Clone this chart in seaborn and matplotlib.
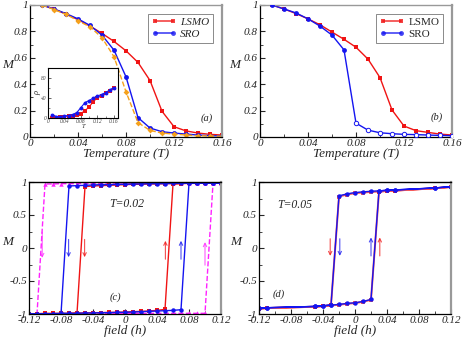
import numpy as np
import pandas as pd
import matplotlib
matplotlib.use("Agg")
import matplotlib.pyplot as plt
from matplotlib.ticker import MultipleLocator, FixedLocator, FuncFormatter
from matplotlib.lines import Line2D
import seaborn as sns

sns.set_theme(style="ticks")
plt.rcParams['font.family'] = ['Liberation Serif', 'DejaVu Serif']
plt.rcParams['axes.unicode_minus'] = False

# ---------------- data ----------------
T = [0.01, 0.02, 0.03, 0.04, 0.05, 0.06, 0.07, 0.08, 0.09, 0.10, 0.11, 0.12, 0.13, 0.14, 0.15, 0.16]
# panel (a)
a_lsmo = [1.0, 0.97, 0.93, 0.89, 0.84, 0.785, 0.724, 0.653, 0.565, 0.428, 0.195, 0.078, 0.046, 0.03, 0.02, 0.015]
a_sro = [1.0, 0.97, 0.935, 0.895, 0.845, 0.772, 0.658, 0.456, 0.147, 0.068, 0.04, 0.03, 0.022, 0.015, 0.01, 0.008]
a_third = [1.0, 0.965, 0.93, 0.88, 0.835, 0.752, 0.608, 0.342, 0.109, 0.05, 0.03, 0.022, 0.015, 0.01, 0.008, 0.005]
# inset (resistivity)
rho_lsmo = [1, 1, 2, 3, 4, 5, 7, 9, 15, 22, 33, 40, 45, 50, 55, 60]
rho_sro = [7, 3, 3, 4, 5, 7, 11, 21, 31, 35, 40, 44, 47, 51, 56, 61]
# panel (b)
b_lsmo = [1.0, 0.97, 0.935, 0.895, 0.85, 0.795, 0.74, 0.68, 0.59, 0.45, 0.205, 0.083, 0.048, 0.035, 0.022, 0.015]
b_sro = [1.0, 0.97, 0.94, 0.895, 0.84, 0.772, 0.66, 0.105, 0.052, 0.032, 0.025, 0.02, 0.018, 0.015, 0.012, 0.01]
b_sro_filled = [True, True, True, True, True, True, True, False, False, False, False, False, False, False, False, False]

# panel (c): T=0.02 hysteresis, field grid
h = [-0.12, -0.11, -0.10, -0.09, -0.08, -0.07, -0.06, -0.05, -0.04, -0.03, -0.02, -0.01, 0.0,
     0.01, 0.02, 0.03, 0.04, 0.05, 0.06, 0.07, 0.08, 0.09, 0.10, 0.11, 0.12]
c_lsmo_down = [-1.0, -1.0, -1.0, -1.0, -1.0, -0.995, -0.99, 0.93, 0.94, 0.945, 0.95, 0.955, 0.96,
               0.965, 0.965, 0.97, 0.97, 0.975, 0.975, 0.98, 0.98, 0.98, 0.985, 0.985, 0.985]
c_lsmo_up = [-0.995, -0.995, -0.99, -0.99, -0.99, -0.99, -0.985, -0.985, -0.98, -0.98, -0.975, -0.975, -0.97,
             -0.965, -0.96, -0.955, -0.945, -0.93, 0.97, 0.975, 0.98, 0.98, 0.985, 0.985, 0.985]
c_sro_down = [-1.0, -1.0, -1.0, -1.0, -1.0, 0.94, 0.945, 0.95, 0.955, 0.96, 0.96, 0.965, 0.965,
              0.97, 0.97, 0.975, 0.975, 0.975, 0.98, 0.98, 0.98, 0.985, 0.985, 0.985, 0.985]
c_sro_up = [-1.0, -1.0, -0.995, -0.995, -0.99, -0.99, -0.99, -0.985, -0.985, -0.98, -0.98, -0.975, -0.975,
            -0.97, -0.965, -0.96, -0.955, -0.95, -0.945, -0.935, 0.98, 0.98, 0.985, 0.985, 0.985]
c_third_down = [-1.0, -1.0, 0.97, 0.97, 0.975, 0.975, 0.975, 0.98, 0.98, 0.98, 0.98, 0.985, 0.985,
                0.985, 0.985, 0.985, 0.985, 0.99, 0.99, 0.99, 0.99, 0.99, 0.99, 0.99, 0.99]
c_third_up = [-1.0, -1.0, -1.0, -1.0, -0.995, -0.995, -0.995, -0.99, -0.99, -0.99, -0.99, -0.99, -0.99,
              -0.99, -0.99, -0.99, -0.99, -0.99, -0.99, -0.99, -0.99, -0.99, -0.99, 0.98, 0.985]

# panel (d): T=0.05 hysteresis
hd = [-0.12, -0.11, -0.05, -0.04, -0.03, -0.02, -0.01, 0.0, 0.01, 0.02, 0.03, 0.04, 0.05, 0.10, 0.12]
d_sro_down = [-0.915, -0.905, -0.885, -0.875, -0.865, 0.79, 0.82, 0.84, 0.85, 0.86, 0.865, 0.875, 0.88, 0.91, 0.93]
d_sro_up = [-0.915, -0.905, -0.885, -0.875, -0.865, -0.855, -0.84, -0.83, -0.81, -0.78, 0.865, 0.875, 0.88, 0.91, 0.93]
d_lsmo_down = [-0.92, -0.91, -0.89, -0.88, -0.87, 0.78, 0.81, 0.83, 0.84, 0.85, 0.855, 0.865, 0.87, 0.905, 0.925]
d_lsmo_up = [-0.92, -0.91, -0.89, -0.88, -0.87, -0.86, -0.845, -0.835, -0.815, -0.785, 0.855, 0.865, 0.87, 0.905, 0.925]

# tick values
T_ticks = [0, 0.04, 0.08, 0.12, 0.16]
M_ticks = [0, 0.2, 0.4, 0.6, 0.8, 1]
h_ticks = [-0.12, -0.08, -0.04, 0, 0.04, 0.08, 0.12]
Mh_ticks = [-1, -0.5, 0, 0.5, 1]
rho_ticks = [0, 40, 80]

RED = '#f01414'
BLUE = '#1414f0'
ORANGE = '#f5a11c'
MAG = '#ff22ff'

fig = plt.figure(figsize=(4.63, 3.43), dpi=100)
W, H = 463.0, 343.0

def add_ax(l, t, r, b):
    return fig.add_axes([l / W, 1 - b / H, (r - l) / W, (b - t) / H])

ax_a = add_ax(30, 5, 222, 137)
ax_b = add_ax(260, 5, 452, 137)
ax_c = add_ax(29, 182, 221, 314)
ax_d = add_ax(259, 182, 451, 314)

lab_font = dict(family='Liberation Serif', style='italic', size=9.5)
gfmt = FuncFormatter(lambda v, p: '%g' % round(v, 6) if abs(v) > 1e-9 else '0')

def style(ax, xt, xmin, yt, ymin, top_gray=False):
    ax.xaxis.set_major_locator(FixedLocator(xt))
    ax.yaxis.set_major_locator(FixedLocator(yt))
    ax.xaxis.set_major_formatter(gfmt)
    ax.yaxis.set_major_formatter(gfmt)
    ax.xaxis.set_minor_locator(MultipleLocator(xmin))
    ax.yaxis.set_minor_locator(MultipleLocator(ymin))
    ax.tick_params(which='both', direction='in', top=False, right=False, pad=1.5, labelsize=8)
    ax.tick_params(which='major', length=3.5, width=0.8)
    ax.tick_params(which='minor', length=2, width=0.6)
    for lab in ax.get_xticklabels() + ax.get_yticklabels():
        lab.set_fontstyle('italic')
    for s in ['left', 'bottom']:
        ax.spines[s].set_color('black')
        ax.spines[s].set_linewidth(0.9)
    ax.spines['right'].set_color('#999999')
    ax.spines['right'].set_linewidth(1.6)
    ax.spines['top'].set_color('#999999' if top_gray else 'black')
    ax.spines['top'].set_linewidth(1.0)

# ---------------- panel (a) ----------------
sns.lineplot(x=T, y=a_lsmo, ax=ax_a, color=RED, marker='s', markersize=3.5, markeredgewidth=0, lw=1.0)
sns.lineplot(x=T, y=a_sro, ax=ax_a, color=BLUE, marker='o', markersize=3.5, markeredgewidth=0, lw=1.0)
sns.lineplot(x=T, y=a_third, ax=ax_a, color=ORANGE, marker='D', markersize=3, markeredgewidth=0, lw=1.0, linestyle='--')
ax_a.set_xlim(0, 0.16)
ax_a.set_ylim(0, 1)
style(ax_a, T_ticks, 0.02, M_ticks, 0.1, top_gray=True)
ax_a.set_xlabel('Temperature (T)', fontdict=lab_font, labelpad=0)
ax_a.set_ylabel('M', fontdict=lab_font, rotation=0)
ax_a.yaxis.set_label_coords(-0.115, 0.5)
ax_a.text(0.147, 0.14, '(a)', fontdict=dict(family='Liberation Serif', style='italic', size=7.5), ha='center', va='center')
hl = [Line2D([], [], color=RED, lw=1.2, marker='s', markersize=3.5, markeredgewidth=0),
      Line2D([], [], color=BLUE, lw=1.2, marker='o', markersize=3.5, markeredgewidth=0)]
leg = ax_a.legend(hl, ['LSMO', 'SRO'], loc='upper right', bbox_to_anchor=(0.955, 0.935), numpoints=2,
                  prop=dict(family='Liberation Serif', style='italic', size=8), frameon=True, fancybox=False,
                  handlelength=2.2, handletextpad=0.4, borderpad=0.35, labelspacing=0.2, borderaxespad=0)
leg.get_frame().set_edgecolor('#555555')
leg.get_frame().set_linewidth(0.6)
for line in leg.get_lines():
    line.set_alpha(0.8)

# inset
ax_i = fig.add_axes([48 / W, 1 - 118 / H, 70 / W, 50 / H])
sns.lineplot(x=T, y=rho_lsmo, ax=ax_i, color=RED, marker='s', markersize=2.5, markeredgewidth=0, lw=0.8)
sns.lineplot(x=T, y=rho_sro, ax=ax_i, color=BLUE, marker='o', markersize=2.8, markeredgewidth=0, lw=0.8)
ax_i.set_xlim(0, 0.17)
ax_i.set_ylim(0, 100)
ax_i.xaxis.set_major_locator(FixedLocator(T_ticks))
ax_i.yaxis.set_major_locator(FixedLocator(rho_ticks))
ax_i.xaxis.set_major_formatter(gfmt)
ax_i.yaxis.set_major_formatter(gfmt)
ax_i.xaxis.set_minor_locator(MultipleLocator(0.02))
ax_i.yaxis.set_minor_locator(MultipleLocator(20))
ax_i.tick_params(which='both', direction='in', labelsize=4, pad=1, length=2, width=0.5, labelcolor='#444444')
ax_i.tick_params(which='minor', length=1.2, width=0.4)
for lab in ax_i.get_xticklabels() + ax_i.get_yticklabels():
    lab.set_fontstyle('italic')
for s in ax_i.spines.values():
    s.set_linewidth(0.8)
    s.set_color('black')
ax_i.set_xlabel('T', fontdict=dict(family='Liberation Serif', style='italic', size=4.5), labelpad=0)
ax_i.set_ylabel('ρ', fontdict=dict(family='Liberation Serif', style='italic', size=6), labelpad=0)

# ---------------- panel (b) ----------------
sns.lineplot(x=T, y=b_lsmo, ax=ax_b, color=RED, marker='s', markersize=3.5, markeredgewidth=0, lw=1.0)
sns.lineplot(x=T, y=b_sro, ax=ax_b, color=BLUE, lw=1.0)
df_b = pd.DataFrame({'T': T, 'M': b_sro, 'filled': b_sro_filled})
sns.scatterplot(data=df_b[df_b['filled']], x='T', y='M', ax=ax_b, color=BLUE, marker='o', s=12, linewidth=0, zorder=3)
sns.scatterplot(data=df_b[~df_b['filled']], x='T', y='M', ax=ax_b, facecolor='white', edgecolor=BLUE, marker='o', s=10, linewidth=0.7, zorder=3)
ax_b.set_xlim(0, 0.16)
ax_b.set_ylim(0, 1)
style(ax_b, T_ticks, 0.02, M_ticks, 0.1, top_gray=True)
ax_b.set_xlabel('Temperature (T)', fontdict=lab_font, labelpad=0)
ax_b.set_ylabel('M', fontdict=lab_font, rotation=0)
ax_b.yaxis.set_label_coords(-0.13, 0.5)
ax_b.text(0.147, 0.147, '(b)', fontdict=dict(family='Liberation Serif', style='italic', size=7.5), ha='center', va='center')
hl2 = [Line2D([], [], color=RED, lw=1.2, marker='s', markersize=3.5, markeredgewidth=0),
       Line2D([], [], color=BLUE, lw=1.2, marker='o', markersize=3.5, markeredgewidth=0)]
leg2 = ax_b.legend(hl2, ['LSMO', 'SRO'], loc='upper right', bbox_to_anchor=(0.955, 0.935), numpoints=2,
                   prop=dict(family='Liberation Serif', size=8), frameon=True, fancybox=False,
                   handlelength=2.2, handletextpad=0.4, borderpad=0.35, labelspacing=0.2, borderaxespad=0)
leg2.get_frame().set_edgecolor('#555555')
leg2.get_frame().set_linewidth(0.6)
for line in leg2.get_lines():
    line.set_alpha(0.8)

# ---------------- panel (c) ----------------
def loop(ax, x, down, up, color, marker, ms, ls='-', alpha=1.0, lw=1.0):
    xx = list(reversed(x)) + list(x)
    yy = list(reversed(down)) + list(up)
    sns.lineplot(x=xx, y=yy, ax=ax, sort=False, estimator=None, color=color, marker=marker,
                 markersize=ms, markeredgewidth=0, lw=lw, linestyle=ls, alpha=alpha)

loop(ax_c, h, c_third_down, c_third_up, MAG, '^', 3.2, ls='--')
loop(ax_c, h, c_lsmo_down, c_lsmo_up, RED, 's', 3.0)
loop(ax_c, h, c_sro_down, c_sro_up, BLUE, 'o', 3.2)
ax_c.set_xlim(-0.12, 0.12)
ax_c.set_ylim(-1, 1)
style(ax_c, h_ticks, 0.02, Mh_ticks, 0.25)
ax_c.set_xlabel('field (h)', fontdict=lab_font, labelpad=0)
ax_c.set_ylabel('M', fontdict=lab_font, rotation=0)
ax_c.yaxis.set_label_coords(-0.11, 0.5)
ax_c.text(-0.02, 0.66, 'T=0.02', fontdict=dict(family='Liberation Serif', style='italic', size=8.5), ha='left', va='center')
ax_c.text(-0.0125, -0.75, '(c)', fontdict=dict(family='Liberation Serif', style='italic', size=7.5), ha='center', va='center')

def arrow(ax, x, y0, y1, color, alpha=0.75):
    ax.annotate('', xy=(x, y1), xytext=(x, y0),
                arrowprops=dict(arrowstyle='->', color=color, lw=0.8, alpha=alpha, shrinkA=0, shrinkB=0,
                                mutation_scale=6))

arrow(ax_c, -0.1035, 0.24, -0.15, MAG)
arrow(ax_c, -0.0705, 0.13, -0.14, BLUE)
arrow(ax_c, -0.0505, 0.13, -0.14, RED)
arrow(ax_c, 0.0505, -0.17, 0.11, RED)
arrow(ax_c, 0.0700, -0.17, 0.11, BLUE)
arrow(ax_c, 0.1000, -0.26, 0.09, MAG)

# ---------------- panel (d) ----------------
loop(ax_d, hd, d_lsmo_down, d_lsmo_up, RED, 's', 3.2, alpha=0.7, lw=1.4)
loop(ax_d, hd, d_sro_down, d_sro_up, BLUE, 'o', 3.2)
ax_d.set_xlim(-0.12, 0.12)
ax_d.set_ylim(-1, 1)
style(ax_d, h_ticks, 0.02, Mh_ticks, 0.25)
ax_d.set_xlabel('field (h)', fontdict=lab_font, labelpad=0)
ax_d.set_ylabel('M', fontdict=lab_font, rotation=0)
ax_d.yaxis.set_label_coords(-0.12, 0.5)
ax_d.text(-0.097, 0.645, 'T=0.05', fontdict=dict(family='Liberation Serif', style='italic', size=8.5), ha='left', va='center')
ax_d.text(-0.095, -0.70, '(d)', fontdict=dict(family='Liberation Serif', style='italic', size=7.5), ha='center', va='center')
arrow(ax_d, -0.031, 0.14, -0.12, RED)
arrow(ax_d, -0.019, 0.14, -0.12, BLUE)
arrow(ax_d, 0.020, -0.12, 0.16, BLUE)
arrow(ax_d, 0.031, -0.12, 0.16, RED)

fig.savefig('out.png', dpi=100)
